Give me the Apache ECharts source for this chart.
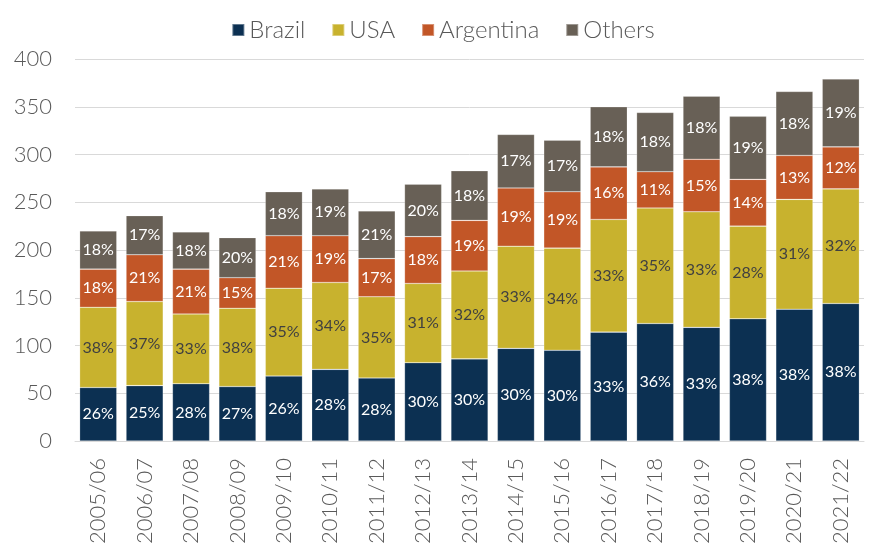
<!DOCTYPE html>
<html>
<head>
<meta charset="utf-8">
<script src="https://cdn.jsdelivr.net/npm/echarts@6/dist/echarts.min.js"></script>
<style>
    html, body { margin: 0; padding: 0; background: #fff; }
    #chart { width: 886px; height: 558px; }
</style>
</head>
<body>
<div id="chart"></div>
<script>
// 年度（x轴）
var seasons = ['2005/06','2006/07','2007/08','2008/09','2009/10','2010/11','2011/12','2012/13','2013/14',
               '2014/15','2015/16','2016/17','2017/18','2018/19','2019/20','2020/21','2021/22'];
// 各国数量
var brazil    = [56, 58, 60, 57, 68, 75, 66, 82, 86, 97, 95, 114, 123, 119, 128, 138, 144];
var usa       = [84, 88, 73, 82, 92, 91, 85, 83, 92, 107, 107, 118, 121, 121, 97, 115, 120];
var argentina = [40, 49, 47, 32, 55, 49, 40, 49, 53, 61, 59, 55, 38, 55, 49, 46, 44];
var others    = [40, 41, 39, 42, 46, 49, 50, 55, 52, 56, 54, 63, 62, 66, 66, 67, 71];
// 柱内百分比标签
var brazilPct    = [26, 25, 28, 27, 26, 28, 28, 30, 30, 30, 30, 33, 36, 33, 38, 38, 38];
var usaPct       = [38, 37, 33, 38, 35, 34, 35, 31, 32, 33, 34, 33, 35, 33, 28, 31, 32];
var argentinaPct = [18, 21, 21, 15, 21, 19, 17, 18, 19, 19, 19, 16, 11, 15, 14, 13, 12];
var othersPct    = [18, 17, 18, 20, 18, 19, 21, 20, 18, 17, 17, 18, 18, 18, 19, 18, 19];
// y轴刻度
var yMin = 0, yMax = 400, yStep = 50;

var FONT = 'Lato, "Noto Sans", sans-serif';

function makeSeries( name, values, pct, color, labelColor ) {
    return {
        name: name,
        type: 'bar',
        stack: 'total',
        barCategoryGap: '20%',
        data: values,
        itemStyle: {
            color: color,
            borderColor: 'rgba(255,255,255,0.35)',
            borderWidth: 0.6
        },
        label: {
            show: true,
            position: 'inside',
            fontFamily: FONT,
            fontSize: 16,
            color: labelColor,
            formatter: function ( p ) {
                return pct[ p.dataIndex ] + '%';
            }
        }
    };
}

var myChart = echarts.init( document.getElementById('chart') );
var option = {
    animation: false,
    textStyle: { fontFamily: FONT },
    legend: {
        top: 13,
        left: 'center',
        itemWidth: 12,
        itemHeight: 12,
        itemGap: 26,
        icon: 'rect',
        textStyle: { fontFamily: FONT, fontSize: 24, color: '#595959', fontWeight: 300 },
        data: ['Brazil', 'USA', 'Argentina', 'Others']
    },
    grid: {
        left: 75,
        right: 22,
        top: 59,
        bottom: 117,
        containLabel: false
    },
    xAxis: {
        type: 'category',
        data: seasons,
        axisLine: { show: true, lineStyle: { color: '#d9d9d9', width: 1 } },
        axisTick: { show: false },
        axisLabel: {
            rotate: 90,
            margin: 17,
            fontFamily: FONT,
            fontSize: 22,
            fontWeight: 300,
            color: '#595959',
            interval: 0
        }
    },
    yAxis: {
        type: 'value',
        min: yMin,
        max: yMax,
        interval: yStep,
        axisLine: { show: false },
        axisTick: { show: false },
        splitLine: { lineStyle: { color: '#d9d9d9', width: 1 } },
        axisLabel: {
            margin: 23,
            fontFamily: FONT,
            fontSize: 22,
            fontWeight: 300,
            color: '#595959'
        }
    },
    series: [
        makeSeries( 'Brazil', brazil, brazilPct, '#0c3052', '#ffffff' ),
        makeSeries( 'USA', usa, usaPct, '#c8b22e', '#404040' ),
        makeSeries( 'Argentina', argentina, argentinaPct, '#c25627', '#ffffff' ),
        makeSeries( 'Others', others, othersPct, '#686056', '#ffffff' )
    ]
};
myChart.setOption( option );
</script>
</body>
</html>
